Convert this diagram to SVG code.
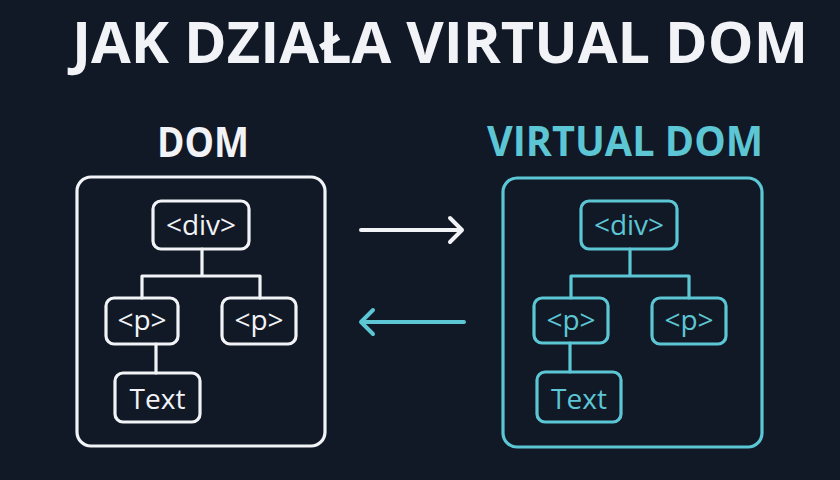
<svg xmlns="http://www.w3.org/2000/svg" width="840" height="480" viewBox="0 0 840 480">
<style>
.bg{fill:#111826}
.w{stroke:#f1f3f6;fill:none;stroke-width:3.2;stroke-linecap:round;stroke-linejoin:round}
.c{stroke:#5cc6d4;fill:none;stroke-width:3.2;stroke-linecap:round;stroke-linejoin:round}
.wt{fill:#f1f3f6}
.ct{fill:#5cc6d4}
.h{font-family:"Open Sans","Noto Sans",sans-serif;font-weight:700;text-anchor:middle}
.lbl{font-family:"Open Sans","Noto Sans",sans-serif;font-size:28px;font-weight:500;text-anchor:middle}
.arr{fill:none;stroke-width:4;stroke-linecap:round;stroke-linejoin:round}
</style>
<rect class="bg" x="0" y="0" width="840" height="480"/>
<text class="h wt" x="440" y="63" font-size="58" textLength="736" lengthAdjust="spacingAndGlyphs">JAK DZIAŁA VIRTUAL DOM</text>
<text class="h wt" x="203" y="157" font-size="41" textLength="92" lengthAdjust="spacingAndGlyphs">DOM</text>
<text class="h ct" x="625" y="156" font-size="41" textLength="276" lengthAdjust="spacingAndGlyphs">VIRTUAL DOM</text>

<g id="dom-panel">
<rect class="w" x="77" y="177" width="248" height="269" rx="14"/>
</g>
<g id="dom-div"><rect class="w" x="153" y="201" width="96" height="48" rx="8"/><text class="lbl wt" x="201" y="235">&lt;div&gt;</text></g>
<g id="dom-p1"><rect class="w" x="106" y="298" width="72" height="46" rx="8"/><text class="lbl wt" x="142" y="330">&lt;p&gt;</text></g>
<g id="dom-p2"><rect class="w" x="222" y="298" width="74" height="46" rx="8"/><text class="lbl wt" x="259" y="330">&lt;p&gt;</text></g>
<g id="dom-text"><rect class="w" x="115" y="373" width="85" height="49" rx="8"/><text class="lbl wt" x="157.5" y="408.5" font-size="30">Text</text></g>

<g id="vdom-panel">
<rect class="c" x="503" y="178" width="259" height="269" rx="14"/>
</g>
<g id="vdom-div"><rect class="c" x="581" y="201" width="96" height="48" rx="8"/><text class="lbl ct" x="629" y="235">&lt;div&gt;</text></g>
<g id="vdom-p1"><rect class="c" x="534" y="298" width="74" height="45" rx="8"/><text class="lbl ct" x="571" y="330">&lt;p&gt;</text></g>
<g id="vdom-p2"><rect class="c" x="652" y="298" width="74" height="46" rx="8"/><text class="lbl ct" x="689" y="330">&lt;p&gt;</text></g>
<g id="vdom-text"><rect class="c" x="537" y="372" width="84" height="50" rx="8"/><text class="lbl ct" x="579" y="408.5" font-size="30">Text</text></g>

<g id="connectors">
<path class="w" d="M202 249V276M142 298V276H260V298M156 344V373"/>
<path class="c" d="M630 249V276M571 298V276H689V298M570 343V372"/>
<path class="arr" stroke="#f1f3f6" d="M361 230H462M450 218L462 230L450 242"/>
<path class="arr" stroke="#5cc6d4" d="M464 322H362M373 310L361 322L373 334"/>
</g>
</svg>
